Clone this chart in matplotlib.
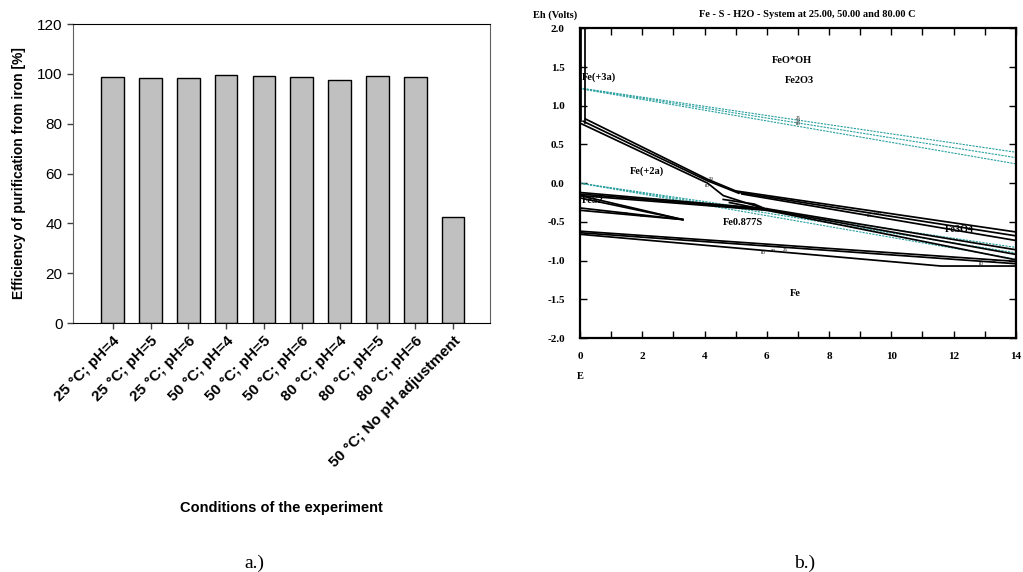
import matplotlib.pyplot as plt

# ---- panel a data ----
conditions = ['25 °C; pH=4', '25 °C; pH=5', '25 °C; pH=6',
              '50 °C; pH=4', '50 °C; pH=5', '50 °C; pH=6',
              '80 °C; pH=4', '80 °C; pH=5', '80 °C; pH=6',
              '50 °C; No pH adjustment']
efficiency = [98.7, 98.3, 98.5, 99.5, 99.0, 98.9, 97.5, 99.0, 98.7, 42.7]

# ---- panel b data (pH, Eh polylines) ----
water_upper_ph = [[0, 14], [0, 14], [0, 14]]
water_upper_eh = [[1.229, 0.40], [1.225, 0.33], [1.22, 0.25]]
water_lower_ph = [[0, 14], [0, 14], [0, 14]]
water_lower_eh = [[0.0, -0.83], [0.0, -0.90], [0.0, -0.98]]

boundary_ph = [
    [0.04, 0.04], [0.16, 0.16],                             # Fe+3 / FeO*OH
    [0.17, 4.1, 5.0], [0.10, 4.1, 5.1], [0.03, 4.1, 4.6, 6.0],  # FeO*OH / Fe+2
    [5.0, 14], [5.1, 14], [5.2, 14],                        # upper right set
    [0, 6.0], [0, 6.0], [0, 6.0],                           # Fe+2 / Fe0.877S
    [4.6, 5.6, 6.0], [4.8, 5.8],                            # small wedge
    [6.0, 14], [6.0, 14], [6.0, 14],                        # lower right set
    [0, 3.3], [0, 3.3], [0, 3.3], [0, 3.3],                 # FeS2 wedge
    [0, 14], [0, 14], [0, 11.6, 14],                        # Fe bottom
]
boundary_eh = [
    [2.0, 0.80], [2.0, 0.78],
    [0.83, 0.05, -0.10], [0.80, 0.03, -0.13], [0.77, 0.00, -0.16, -0.34],
    [-0.10, -0.63], [-0.12, -0.68], [-0.14, -0.74],
    [-0.12, -0.33], [-0.14, -0.34], [-0.16, -0.35],
    [-0.21, -0.27, -0.34], [-0.25, -0.33],
    [-0.33, -0.86], [-0.34, -0.92], [-0.35, -0.99],
    [-0.16, -0.47], [-0.19, -0.47], [-0.32, -0.47], [-0.35, -0.47],
    [-0.62, -1.01], [-0.64, -1.04], [-0.66, -1.07, -1.07],
]

region_names = ['FeO*OH', 'Fe2O3', 'Fe(+3a)', 'Fe(+2a)', 'Fe0.877S', 'Fe3O4', 'Fe', 'FeS2']
region_ph = [6.8, 7.05, 0.05, 2.15, 5.25, 12.2, 6.93, 0.05]
region_eh = [1.58, 1.33, 1.37, 0.15, -0.51, -0.60, -1.42, -0.23]

temp_tags = ['25', '50', '80', '80', '50', '25', '80', '50', '25', '25', '50', '80', '80', '50', '80']
tag_ph = [7.0, 7.0, 7.0, 4.1, 4.2, 1.5, 5.9, 6.2, 6.6, 9.5, 9.6, 9.3, 12.9, 13.3, 2.0]
tag_eh = [0.84, 0.80, 0.76, -0.03, 0.05, -0.40, -0.90, -0.88, -0.86, -0.38, -0.40, -0.42, -1.05, -1.01, -0.43]

fig = plt.figure(figsize=(10.23, 5.72), dpi=100)

# ================= panel a =================
ax1 = fig.add_axes([0.0714, 0.4353, 0.4076, 0.5227])
x = range(len(conditions))
ax1.bar(x, efficiency, width=0.6, color='#c0c0c0', edgecolor='black', linewidth=1.0)
ax1.set_xlim(-1.05, 9.98)
ax1.set_ylim(0, 120)
ax1.set_yticks(range(0, 121, 20))
ax1.set_xticks(list(x))
ax1.set_xticklabels(conditions, rotation=45, ha='right', rotation_mode='anchor',
                    fontweight='bold', fontsize=11, family='Liberation Sans')
for lab in ax1.get_yticklabels():
    lab.set_family('Liberation Sans')
    lab.set_fontsize(11)
ax1.tick_params(direction='out', length=4, width=1, colors='#404040', labelcolor='black')
ax1.tick_params(axis='x', pad=4)
for s in ax1.spines.values():
    s.set_color('#606060')
ax1.spines['top'].set_color('black')
ax1.spines['bottom'].set_color('black')
ax1.set_ylabel('Efficiency of purification from iron [%]', fontweight='bold',
               fontsize=10, family='Liberation Sans', labelpad=8)
fig.text(0.2755, 0.1125, 'Conditions of the experiment', ha='center', va='center',
         fontweight='bold', fontsize=10.5, family='Liberation Sans')
fig.text(0.249, 0.016, 'a.)', ha='center', va='center', fontsize=14, family='Liberation Serif')

# ================= panel b =================
ax2 = fig.add_axes([0.567, 0.409, 0.426, 0.5415])
for px, py in zip(water_upper_ph + water_lower_ph, water_upper_eh + water_lower_eh):
    ax2.plot(px, py, color='#2aa0a0', linewidth=0.8, linestyle=(0, (2, 1)))
for px, py in zip(boundary_ph, boundary_eh):
    ax2.plot(px, py, color='black', linewidth=1.25)
for name, px, py in zip(region_names, region_ph, region_eh):
    ha = 'left' if px < 1 else 'center'
    ax2.text(px, py, name, ha=ha, va='center', fontsize=7.5, fontweight='bold',
             family='Liberation Serif')
for t, px, py in zip(temp_tags, tag_ph, tag_eh):
    ax2.text(px, py, t, ha='center', va='center', fontsize=3.5, family='Liberation Serif')

ax2.set_xlim(0, 14)
ax2.set_ylim(-2, 2)
ax2.set_xticks(range(15))
ax2.set_xticklabels([str(v) if v % 2 == 0 else '' for v in range(15)])
ax2.set_yticks([2.0, 1.5, 1.0, 0.5, 0.0, -0.5, -1.0, -1.5, -2.0])
ax2.set_yticklabels(['2.0', '1.5', '1.0', '0.5', '0.0', '-0.5', '-1.0', '-1.5', '-2.0'])
ax2.tick_params(direction='in', length=5, width=1, top=True, right=True)
ax2.tick_params(axis='x', pad=10)
ax2.tick_params(axis='y', pad=11)
for lab in ax2.get_xticklabels() + ax2.get_yticklabels():
    lab.set_family('Liberation Serif')
    lab.set_fontweight('bold')
    lab.set_fontsize(8)
for s in ax2.spines.values():
    s.set_linewidth(1.6)
fig.text(0.521, 0.973, 'Eh (Volts)', ha='left', va='center', fontsize=7.5,
         fontweight='bold', family='Liberation Serif')
fig.text(0.789, 0.975, 'Fe - S - H2O - System at 25.00, 50.00 and 80.00 C', ha='center',
         va='center', fontsize=7.5, fontweight='bold', family='Liberation Serif')
fig.text(0.5675, 0.341, 'E', ha='center', va='center', fontsize=7.5,
         fontweight='bold', family='Liberation Serif')
fig.text(0.787, 0.016, 'b.)', ha='center', va='center', fontsize=14, family='Liberation Serif')

fig.savefig('out.png', dpi=100)
